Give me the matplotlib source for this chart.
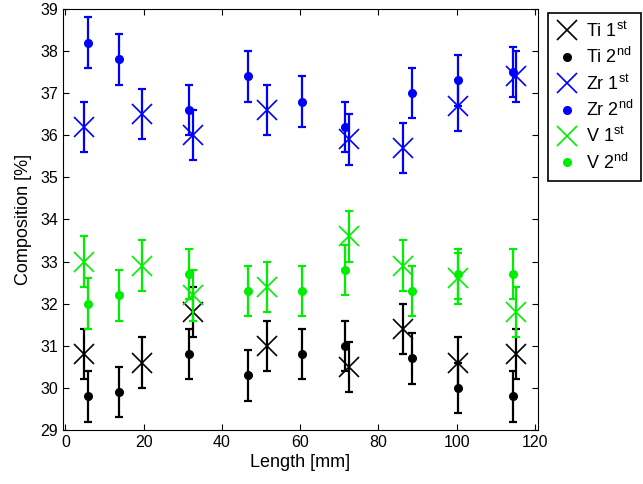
import numpy as np
import matplotlib.pyplot as plt

plt.rcParams['font.family'] = ['Liberation Sans', 'DejaVu Sans']
plt.rcParams['mathtext.fontset'] = 'custom'
plt.rcParams['mathtext.rm'] = 'Liberation Sans'
plt.rcParams['font.size'] = 11.5

# positions along the sample (mm)
x1 = [4.7, 19.7, 32.6, 51.6, 72.4, 86.4, 100.4, 115.1]
x2 = [5.8, 13.7, 31.6, 46.6, 60.6, 71.6, 88.5, 100.4, 114.3]

# compositions [%]
ti1 = [30.8, 30.6, 31.8, 31.0, 30.5, 31.4, 30.6, 30.8]
ti2 = [29.8, 29.9, 30.8, 30.3, 30.8, 31.0, 30.7, 30.0, 29.8]
zr1 = [36.2, 36.5, 36.0, 36.6, 35.9, 35.7, 36.7, 37.4]
zr2 = [38.2, 37.8, 36.6, 37.4, 36.8, 36.2, 37.0, 37.3, 37.5]
v1 = [33.0, 32.9, 32.2, 32.4, 33.6, 32.9, 32.6, 31.8]
v2 = [32.0, 32.2, 32.7, 32.3, 32.3, 32.8, 32.3, 32.7, 32.7]

err1 = [0.6] * 8
err2 = [0.6] * 9

fig = plt.figure(figsize=(6.43, 4.84), dpi=100)
ax = fig.add_axes([0.098, 0.1116, 0.738, 0.870])

series = [
    (x1, ti1, err1, 'x', 'black', 'Ti 1$^{\\rm st}$'),
    (x2, ti2, err2, 'o', 'black', 'Ti 2$^{\\rm nd}$'),
    (x1, zr1, err1, 'x', 'blue', 'Zr 1$^{\\rm st}$'),
    (x2, zr2, err2, 'o', 'blue', 'Zr 2$^{\\rm nd}$'),
    (x1, v1, err1, 'x', '#00ee00', 'V 1$^{\\rm st}$'),
    (x2, v2, err2, 'o', '#00ee00', 'V 2$^{\\rm nd}$'),
]

for x, y, e, m, c, lab in series:
    ax.errorbar(x, y, yerr=e, fmt='none', ecolor=c, elinewidth=1.6,
                capsize=3, capthick=1.6)
    if m == 'x':
        ax.plot(x, y, linestyle='none', marker='x', markersize=15,
                markeredgewidth=1.2, color=c, label=lab)
    else:
        ax.plot(x, y, linestyle='none', marker='o', markersize=5.5,
                color=c, label=lab)

ax.set_xlim(-0.6, 120.7)
ax.set_ylim(29, 39)
ax.set_xticks(np.arange(0, 121, 20))
ax.set_yticks(np.arange(29, 40, 1))
ax.tick_params(direction='in', top=True, right=True, length=4)
ax.set_xlabel('Length [mm]', fontsize=13, labelpad=3)
ax.set_ylabel('Composition [%]', fontsize=13, labelpad=6)

leg = ax.legend(loc='upper left', bbox_to_anchor=(548 / 643, 1 - 13 / 484),
                bbox_transform=fig.transFigure, borderaxespad=0,
                fancybox=False, edgecolor='black', framealpha=1,
                handlelength=1.2, handletextpad=0.45, labelspacing=0.36,
                borderpad=0.45, fontsize=13)
leg.get_frame().set_linewidth(1.2)

fig.savefig('out.png', dpi=100)
